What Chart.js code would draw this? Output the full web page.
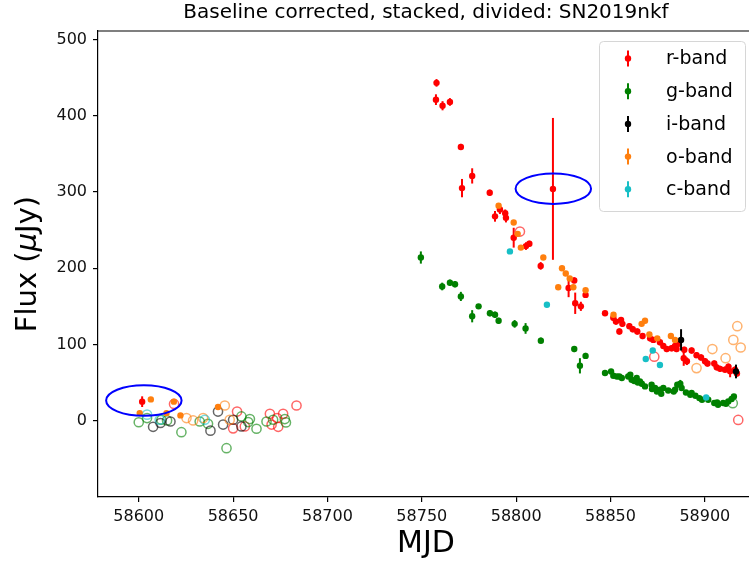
<!DOCTYPE html>
<html>
<head>
<meta charset="utf-8">
<script src="https://cdn.jsdelivr.net/npm/chart.js@4"></script>
<style>
  html, body { margin: 0; padding: 0; background: #fff; overflow: hidden; }
  #wrap { width: 749px; height: 565px; overflow: hidden; }
</style>
</head>
<body>
<div id="wrap"><canvas id="lc" width="760" height="565"></canvas></div>
<script>
// axis ranges and ticks
const xMin = 58578.4, xMax = 58926;
const yMin = -100, yMax = 511;
const xTicks = [58600, 58650, 58700, 58750, 58800, 58850, 58900];
const yTicks = [0, 100, 200, 300, 400, 500];

const bandNames = ["r-band", "g-band", "i-band", "o-band", "c-band"];
const bandColors = ["#ff0000", "#008000", "#000000", "#ff7f0e", "#17bfc6"];
const bandFaded = ["rgba(255,0,0,0.6)", "rgba(0,128,0,0.6)", "rgba(0,0,0,0.6)", "rgba(255,127,14,0.6)", "rgba(23,191,198,0.6)"];

// r-band detections
const rMjd = [58601.8, 58757.8, 58757.5, 58761.0, 58764.9, 58770.7, 58771.3, 58776.7, 58786.0, 58788.8,
  58791.4, 58794.2, 58794.6, 58798.7, 58805.2, 58807.0, 58813.0, 58819.5, 58827.8, 58830.8,
  58831.3, 58834.3, 58836.8, 58847.1, 58851.5, 58852.9, 58854.7, 58855.6, 58856.3, 58860.0,
  58861.8, 58864.2, 58867.0, 58871.0, 58872.7, 58876.2, 58878.0, 58879.8, 58882.4, 58884.2,
  58885.0, 58886.0, 58888.8, 58889.1, 58890.5, 58893.0, 58895.6, 58898.0, 58900.1, 58901.4,
  58905.0, 58906.3, 58908.1, 58910.7, 58912.5, 58913.4, 58916.0, 58917.0];
const rFlux = [25, 443, 421, 413, 418, 359, 305, 321, 299, 268,
  277, 272, 266, 240, 229, 232, 203, 304, 174, 184,
  154, 150, 165, 141, 135, 130, 117, 132, 127, 124,
  120, 117, 111, 108, 106, 103, 98, 94, 95, 98,
  94, 101, 82, 93, 78, 92, 86, 83, 78, 75,
  75, 70, 68, 67, 71, 65, 67, 62];
const rErr = [7, 5, 7, 6, 5, 4, 12, 10, 4, 7,
  6, 5, 6, 13, 5, 4, 5, 93, 12, 4,
  14, 6, 4, 3, 4, 4, 4, 4, 4, 4,
  4, 4, 4, 4, 4, 4, 4, 4, 4, 4,
  4, 4, 10, 4, 5, 4, 4, 4, 4, 4,
  4, 4, 4, 4, 4, 8, 4, 4];
const rLimMjd = [58618.7, 58650.0, 58652.1, 58656.2, 58669.5, 58670.4, 58673.3, 58673.9, 58676.5, 58683.6, 58802.0, 58873.2, 58917.7];
const rLimFlux = [22, -10, 12, -7.5, 9, -5, 3.5, -8, 9, 20, 248, 84, 1];

// g-band
const gMjd = [58749.5, 58760.8, 58764.9, 58767.6, 58770.7, 58776.7, 58780.1, 58786.1, 58788.8, 58790.7,
  58799.2, 58805.0, 58813.1, 58830.8, 58833.8, 58836.8, 58847.1, 58850.3, 58851.5, 58853.4,
  58854.7, 58856.0, 58859.4, 58860.5, 58861.2, 58862.6, 58863.9, 58864.5, 58865.6, 58866.6,
  58868.3, 58871.8, 58872.0, 58873.6, 58874.6, 58876.2, 58876.9, 58878.0, 58880.6, 58883.5,
  58884.2, 58885.4, 58887.0, 58887.7, 58890.0, 58892.3, 58893.0, 58895.0, 58897.1, 58898.5,
  58901.8, 58905.0, 58906.5, 58907.0, 58909.7, 58911.2, 58912.4, 58914.2, 58915.4];
const gFlux = [214, 176, 181, 179, 163, 137, 150, 141, 139, 131,
  127, 121, 105, 94, 72, 85, 62.5, 64.6, 59, 58,
  58, 56, 58, 60.3, 53.7, 52, 56, 50, 51.5, 48.5,
  45, 47.2, 41.5, 42.9, 38.4, 40.6, 35.4, 42.9, 39.7, 38.4,
  40.6, 47.2, 48.5, 42.9, 37, 34, 36.3, 32.8, 29.7, 27.5,
  27.5, 23.2, 24, 21, 23.2, 22.3, 25.3, 28.4, 31.8];
const gErr = [8, 5, 4, 4, 6, 8, 3, 4, 4, 4,
  5, 7, 4, 4, 10, 4, 3, 3, 3, 3,
  3, 3, 3, 3, 3, 3, 3, 3, 3, 3,
  3, 3, 3, 3, 3, 3, 3, 3, 3, 3,
  3, 3, 5, 3, 3, 3, 3, 3, 3, 3,
  3, 3, 3, 3, 3, 3, 3, 3, 3];
const gLimMjd = [58600.0, 58604.4, 58612.0, 58615.0, 58622.6, 58632.3, 58636.7, 58646.5, 58654.4, 58658.0, 58658.9, 58662.4, 58667.7, 58671.2, 58677.4, 58678.0, 58914.8];
const gLimFlux = [-2, 3.5, 1.3, 0.4, -15, -1, -4, -36, 5.6, -1.7, 2.2, -10.5, -1, 1.3, 2.2, -2.2, 23];

// i-band
const iMjd = [58887.4, 58916.5];
const iFlux = [106, 64.6];
const iErr = [14, 9];
const iLimMjd = [58607.6, 58611.5, 58616.8, 58638.0, 58642.0, 58644.7, 58650.0, 58654.4];
const iLimFlux = [-8, -3, -1, -13, 12, -5, 1.3, -7.5];

// o-band
const oMjd = [58600.5, 58606.4, 58614.7, 58618.6, 58622.1, 58642.0, 58790.7, 58798.7, 58800.8, 58802.5,
  58814.4, 58822.3, 58824.3, 58826.3, 58828.4, 58830.3, 58836.8, 58851.6, 58866.5, 58868.3,
  58870.6, 58874.8, 58882.0, 58884.2];
const oFlux = [10, 28, 10, 25, 7, 18, 282, 260, 245, 227,
  214, 175, 200, 193, 186.5, 175, 171, 139, 127, 131,
  113, 108, 111, 106];
const oErr = [3, 3, 3, 3, 3, 3, 3, 3, 3, 3, 3, 3, 3, 3, 3, 3, 3, 3, 3, 3, 3, 3, 3, 3];
const oLimMjd = [58625.3, 58628.8, 58634.1, 58645.6, 58648.2, 58895.6, 58904.0, 58911.0, 58915.1, 58917.2, 58919.0];
const oLimFlux = [3.5, 0.4, 3.5, 20, 1.3, 69, 94, 82, 106, 124, 96];

// c-band
const cMjd = [58796.7, 58816.3, 58868.7, 58872.4, 58876.2, 58900.7];
const cFlux = [222, 152, 81, 92, 73, 30.5];
const cErr = [3, 3, 3, 3, 3, 3];
const cLimMjd = [58604.4, 58611.1, 58635.0];
const cLimFlux = [8, 1.3, 1.3];

// highlighted regions (data units)
const ellMjd = [58602.7, 58819.7];
const ellFlux = [26.5, 304.3];
const ellWidth = [40, 40];
const ellHeight = [40, 40];

const pts = (xs, ys) => xs.map((x, i) => ({ x: x, y: ys[i] }));

const detections = [
  [rMjd, rFlux, rErr], [gMjd, gFlux, gErr], [iMjd, iFlux, iErr], [oMjd, oFlux, oErr], [cMjd, cFlux, cErr]
];
const limits = [
  [rLimMjd, rLimFlux], [gLimMjd, gLimFlux], [iLimMjd, iLimFlux], [oLimMjd, oLimFlux], [cLimMjd, cLimFlux]
];

const datasets = [];
limits.forEach(([xs, ys], b) => {
  datasets.push({
    label: bandNames[b] + " limits",
    data: pts(xs, ys),
    pointRadius: 4.6,
    pointBackgroundColor: "rgba(0,0,0,0)",
    pointBorderColor: bandFaded[b],
    pointBorderWidth: 1.5
  });
});
detections.forEach(([xs, ys, es], b) => {
  datasets.push({
    label: bandNames[b],
    data: pts(xs, ys),
    errors: es,
    color: bandColors[b],
    pointRadius: 3.2,
    pointBackgroundColor: bandColors[b],
    pointBorderWidth: 0
  });
});
datasets.forEach((d, k) => { d.order = -k; });

const errorBars = {
  id: "errorBars",
  beforeDatasetDraw(chart, args) {
    const ds = chart.data.datasets[args.index];
    if (!ds.errors) return;
    const ctx = chart.ctx, ys = chart.scales.y, a = chart.chartArea;
    ctx.save();
    ctx.beginPath();
    ctx.rect(a.left, a.top, a.right - a.left, a.bottom - a.top);
    ctx.clip();
    ctx.strokeStyle = ds.color;
    ctx.lineWidth = 2;
    args.meta.data.forEach((pt, i) => {
      const v = ds.data[i].y, e = ds.errors[i];
      ctx.beginPath();
      ctx.moveTo(pt.x, ys.getPixelForValue(v - e));
      ctx.lineTo(pt.x, ys.getPixelForValue(v + e));
      ctx.stroke();
    });
    ctx.restore();
  }
};

const decorations = {
  id: "decorations",
  afterDatasetsDraw(chart) {
    const ctx = chart.ctx, xs = chart.scales.x, ys = chart.scales.y;
    ctx.save();
    ctx.strokeStyle = "#0000ff";
    ctx.lineWidth = 2;
    ellMjd.forEach((m, i) => {
      const cx = xs.getPixelForValue(m), cy = ys.getPixelForValue(ellFlux[i]);
      const rx = Math.abs(xs.getPixelForValue(m + ellWidth[i] / 2) - cx);
      const ry = Math.abs(ys.getPixelForValue(ellFlux[i] + ellHeight[i] / 2) - cy);
      ctx.beginPath();
      ctx.ellipse(cx, cy, rx, ry, 0, 0, Math.PI * 2);
      ctx.stroke();
    });
    ctx.restore();
  },
  afterDraw(chart) {
    const ctx = chart.ctx, a = chart.chartArea;
    ctx.save();
    // top and right spines
    ctx.strokeStyle = "#000";
    ctx.lineWidth = 1.2;
    ctx.beginPath();
    ctx.moveTo(a.left, a.top);
    ctx.lineTo(a.right, a.top);
    ctx.lineTo(a.right, a.bottom);
    ctx.stroke();

    // title
    const cxm = (a.left + a.right) / 2;
    ctx.fillStyle = "#000";
    ctx.font = "20px 'DejaVu Sans'";
    ctx.textAlign = "center";
    ctx.textBaseline = "middle";
    ctx.fillText("Baseline corrected, stacked, divided: SN2019nkf", cxm, 13);

    // x label
    ctx.font = "30px 'DejaVu Sans'";
    ctx.fillText("MJD", cxm, 544);

    // y label with italic mu
    const parts = [["Flux (", "29px 'DejaVu Sans'"], ["\u03bc", "italic 29px 'DejaVu Sans'"], ["Jy)", "29px 'DejaVu Sans'"]];
    let total = 0;
    parts.forEach(p => { ctx.font = p[1]; total += ctx.measureText(p[0]).width; });
    ctx.translate(28, (a.top + a.bottom) / 2);
    ctx.rotate(-Math.PI / 2);
    ctx.textAlign = "left";
    let px = -total / 2;
    parts.forEach(p => { ctx.font = p[1]; ctx.fillText(p[0], px, 0); px += ctx.measureText(p[0]).width; });
    ctx.restore();

    // legend
    ctx.save();
    const lx = 599.5, ly = 41.5, lw = 146, lh = 170, r = 4;
    ctx.beginPath();
    ctx.moveTo(lx + r, ly);
    ctx.arcTo(lx + lw, ly, lx + lw, ly + lh, r);
    ctx.arcTo(lx + lw, ly + lh, lx, ly + lh, r);
    ctx.arcTo(lx, ly + lh, lx, ly, r);
    ctx.arcTo(lx, ly, lx + lw, ly, r);
    ctx.closePath();
    ctx.fillStyle = "rgba(255,255,255,0.8)";
    ctx.fill();
    ctx.strokeStyle = "#d6d6d6";
    ctx.lineWidth = 1;
    ctx.stroke();
    ctx.font = "19px 'DejaVu Sans'";
    ctx.textAlign = "left";
    ctx.textBaseline = "middle";
    bandNames.forEach((name, i) => {
      const ry = 58.5 + i * 32.7, hx = 628;
      ctx.strokeStyle = bandColors[i];
      ctx.lineWidth = 2;
      ctx.beginPath();
      ctx.moveTo(hx, ry - 8);
      ctx.lineTo(hx, ry + 8);
      ctx.stroke();
      ctx.fillStyle = bandColors[i];
      ctx.beginPath();
      ctx.arc(hx, ry, 3.2, 0, Math.PI * 2);
      ctx.fill();
      ctx.fillStyle = "#000";
      ctx.fillText(name, 666, ry + 1);
    });
    ctx.restore();
  }
};

const tickFont = { family: "DejaVu Sans", size: 16 };

new Chart(document.getElementById("lc"), {
  type: "scatter",
  data: { datasets: datasets },
  options: {
    responsive: false,
    animation: false,
    layout: { padding: { left: 0, top: 31, right: 6, bottom: 0 } },
    plugins: { legend: { display: false }, tooltip: { enabled: false }, title: { display: false } },
    scales: {
      x: {
        type: "linear", min: xMin, max: xMax,
        afterBuildTicks: s => { s.ticks = xTicks.map(v => ({ value: v })); },
        afterFit: s => { s.height = 68; },
        grid: { drawOnChartArea: false, drawTicks: true, tickLength: 5, color: "#000", lineWidth: 1.2 },
        border: { display: true, color: "#000", width: 1.2 },
        ticks: { padding: 5, color: "#111", font: tickFont, maxRotation: 0, callback: v => String(v) }
      },
      y: {
        type: "linear", min: yMin, max: yMax,
        afterBuildTicks: s => { s.ticks = yTicks.map(v => ({ value: v })); },
        afterFit: s => { s.width = 98; },
        grid: { drawOnChartArea: false, drawTicks: true, tickLength: 5, color: "#000", lineWidth: 1.2 },
        border: { display: true, color: "#000", width: 1.2 },
        ticks: { padding: 6, color: "#111", font: tickFont, callback: v => String(v) }
      }
    }
  },
  plugins: [errorBars, decorations]
});
</script>
</body>
</html>
